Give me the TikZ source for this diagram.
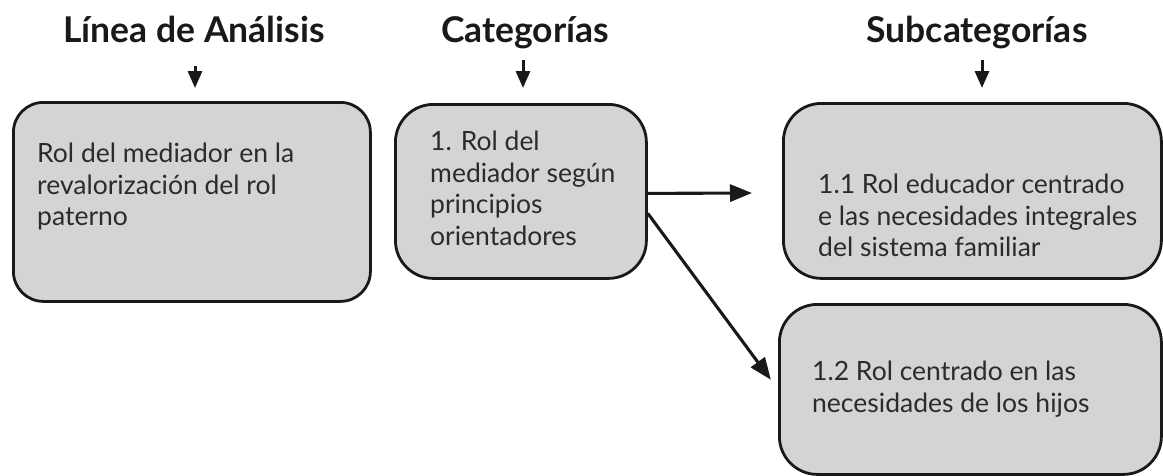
\documentclass[tikz,border=0pt]{standalone}
\usepackage{fontspec}
\setmainfont{Lato}
\usetikzlibrary{arrows.meta,calc}
\definecolor{boxgray}{HTML}{D3D4D6}
\definecolor{txt}{HTML}{2B2B2B}
\tikzset{
  box/.style={draw=black!90, line width=2.8pt, fill=boxgray, rounded corners=#1, inner sep=0pt},
  box/.default=32pt,
  body/.style={anchor=north west, align=left, inner sep=0pt, text=txt,
    font=\fontsize{26.5pt}{31.5pt}\selectfont},
  head/.style={anchor=base, inner sep=0pt, text=black!90,
    font=\fontsize{35.5pt}{40pt}\selectfont\bfseries},
  arr/.style={line width=3.1pt, draw=black!90, -{Triangle[length=22pt,width=17pt]}},
  harr/.style={line width=3pt, draw=black!90, -{Triangle[length=17pt,width=14pt]}},
}
\begin{document}
\begin{tikzpicture}[x=1pt,y=-1pt]
\useasboundingbox (0,0) rectangle (1163,475);
% headings
\node[head] (h1) at (194,42) {Línea de Análisis};
\node[head] (h2) at (525,42) {Categorías};
\node[head] (h3) at (977,42) {Subcategorías};
\coordinate (h1b) at (195,88);
\coordinate (h2b) at (523,88);
\coordinate (h3b) at (982,88);
\draw[harr] (h1b |- 0,66) -- (h1b);
\draw[harr] (h2b |- 0,60) -- (h2b);
\draw[harr] (h3b |- 0,60) -- (h3b);
% boxes
\node[box=30pt, minimum width=357pt, minimum height=199pt, anchor=north west] (b1) at (12,101) {};
\node[box=38pt, minimum width=251pt, minimum height=174pt, anchor=north west] (b2) at (394,103) {};
\node[box=38pt, minimum width=378pt, minimum height=175pt, anchor=north west] (b3) at (782,102) {};
\node[box=38pt, minimum width=382pt, minimum height=170pt, anchor=north west] (b4) at (778,303) {};
% texts
\node[body] (t1) at (37,143) {Rol del mediador en la\\revalorización del rol\\paterno};
\node[body] (t2) at (430,131) {1. Rol del\\mediador según\\principios\\orientadores};
\node[body] (t3) at (818,174) {1.1 Rol educador centrado\\e las necesidades integrales\\del sistema familiar};
\node[body] (t4) at (812,361) {1.2 Rol centrado en las\\necesidades de los hijos};
% connectors
\draw[arr, shorten >=30pt] ($(b2.east)+(0,2)$) -- ($(b3.west)+(0,2)$);
\draw[arr, shorten >=12pt] ($(b2.east)+(0,22)$) -- (b4.west);
\end{tikzpicture}
\end{document}
